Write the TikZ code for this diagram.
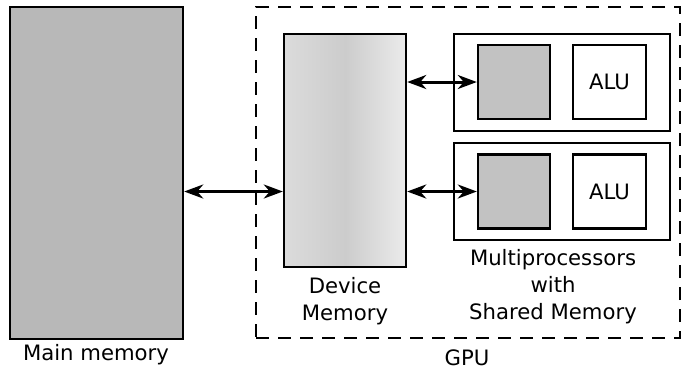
\documentclass[tikz,border=0pt]{standalone}
\usepackage{fontspec}
\setmainfont{DejaVu Sans}
\usetikzlibrary{arrows.meta}
\tikzset{
  box/.style={draw, line width=1.2pt, inner sep=0pt},
  membox/.style={box, fill=black!28},
  devbox/.style={box, left color=black!14, right color=black!8, middle color=black!20},
  sharedbox/.style={box, fill=black!24},
  alubox/.style={box, fill=white},
  mpbox/.style={box, fill=white},
  gpubox/.style={draw, line width=1.1pt, dash pattern=on 6.5pt off 4.5pt, inner sep=0pt},
  label/.style={align=center, font=\fontsize{10.6}{13.5}\selectfont},
  arr/.style={{Stealth[length=9.5pt,width=7pt,inset=3pt]}-{Stealth[length=9.5pt,width=7pt,inset=3pt]}, line width=1.5pt}
}
\begin{document}
\begin{tikzpicture}[x=0.5pt,y=-0.5pt]
      \useasboundingbox (0,0) rectangle (683,372);
      \node[gpubox, minimum width=212pt, minimum height=165.5pt] (gpu) at (468,172.5) {};
      \node[membox, minimum width=86.5pt, minimum height=166pt] (main) at (96.5,173) {};
      \node[devbox, minimum width=61pt, minimum height=116.5pt] (dev) at (345,150.5) {};
      \node[mpbox, minimum width=108pt, minimum height=48.5pt] (mp1) at (562,82.5) {};
      \node[mpbox, minimum width=108pt, minimum height=48.5pt] (mp2) at (562,191.5) {};
      \node[sharedbox, minimum width=36pt, minimum height=37pt] (sm1) at (514,82) {};
      \node[sharedbox, minimum width=36pt, minimum height=37pt] (sm2) at (514,191.5) {};
      \node[alubox, minimum width=36.5pt, minimum height=37pt, label] (alu1) at (609.5,82) {ALU};
      \node[alubox, minimum width=36.5pt, minimum height=37pt, label] (alu2) at (609.5,191.5) {ALU};
      \draw
        (96,355) node[label] (mainlbl) {Main memory}
        (345,301) node[label] (devlbl) {Device\\Memory}
        (553,287) node[label] (mplbl) {Multiprocessors\\with\\Shared Memory}
        (467,358) node[label] (gpulbl) {GPU};
      \begin{scope}[arr]
        \draw (main.east |- sm2) to (dev.west |- sm2);
        \draw (dev.east |- sm1) to (sm1.west);
        \draw (dev.east |- sm2) to (sm2.west);
      \end{scope}
    \end{tikzpicture}
\end{document}
